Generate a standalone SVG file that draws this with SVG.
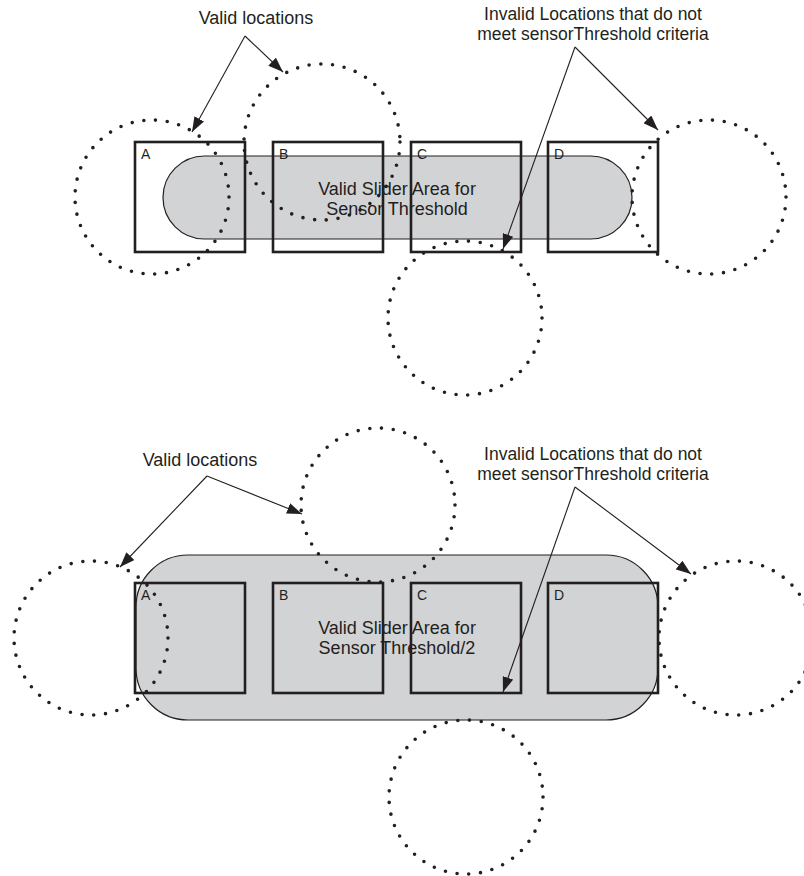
<svg xmlns="http://www.w3.org/2000/svg" width="804" height="876" viewBox="0 0 804 876">
  <defs>
    <style>
      .bg { fill: #ffffff; }
      .pill { fill: #d2d3d5; stroke: #231f20; stroke-width: 1.2; }
      .sq { fill: none; stroke: #231f20; stroke-width: 2.6; }
      .ring { fill: none; stroke: #231f20; stroke-width: 3.6; stroke-linecap: round; stroke-dasharray: 0 11.8; }
      .lead { fill: none; stroke: #231f20; stroke-width: 1.1; marker-end: url(#head); }
      .t { font-family: "Liberation Sans", Arial, sans-serif; font-size: 18px; fill: #231f20; }
      .t2 { font-family: "Liberation Sans", Arial, sans-serif; font-size: 17.5px; fill: #231f20; }
      .c { text-anchor: middle; }
      .lbl { font-family: "Liberation Sans", Arial, sans-serif; font-size: 14px; fill: #231f20; }
    </style>
    <marker id="head" viewBox="0 0 15 11" refX="15" refY="5.5" markerWidth="15" markerHeight="11" markerUnits="userSpaceOnUse" orient="auto">
      <path d="M0,0 L15,5.5 L0,11 z" fill="#231f20"/>
    </marker>
  </defs>

  <rect class="bg" x="0" y="0" width="804" height="876"/>

  <!-- ===== Upper panel: full sensor threshold ===== -->
  <g id="slider-top">
    <rect class="pill" x="163" y="156" width="469" height="83" rx="41.5" ry="41.5"/>
    <text class="t c" x="397" y="195">Valid Slider Area for</text>
    <text class="t c" x="397" y="215">Sensor Threshold</text>
  </g>
  <g id="top-A"><rect class="sq" x="135" y="142" width="110" height="110"/><text class="lbl" x="141" y="159">A</text></g>
  <g id="top-B"><rect class="sq" x="273" y="142" width="110" height="110"/><text class="lbl" x="279" y="159">B</text></g>
  <g id="top-C"><rect class="sq" x="411" y="142" width="110" height="110"/><text class="lbl" x="417" y="159">C</text></g>
  <g id="top-D"><rect class="sq" x="548" y="142" width="110" height="110"/><text class="lbl" x="554" y="159">D</text></g>

  <g id="top-loc-left"><circle class="ring" cx="152" cy="197" r="77"/></g>
  <g id="top-loc-upper"><circle class="ring" cx="322" cy="142" r="78"/></g>
  <g id="top-loc-lower"><circle class="ring" cx="465" cy="318" r="77"/></g>
  <g id="top-loc-right"><circle class="ring" cx="709" cy="197" r="77"/></g>

  <g id="top-valid-label"><text class="t c" x="256" y="24">Valid locations</text></g>
  <g id="top-invalid-label">
    <text class="t2 c" x="593" y="20">Invalid Locations that do not</text>
    <text class="t2 c" x="593" y="40">meet sensorThreshold criteria</text>
  </g>

  <!-- ===== Lower panel: half sensor threshold ===== -->
  <g id="slider-bottom">
    <rect class="pill" x="136" y="555" width="522" height="165" rx="52" ry="52"/>
    <text class="t c" x="397" y="634">Valid Slider Area for</text>
    <text class="t c" x="397" y="654">Sensor Threshold/2</text>
  </g>
  <g id="bot-A"><rect class="sq" x="135" y="583" width="110" height="110"/><text class="lbl" x="141" y="600">A</text></g>
  <g id="bot-B"><rect class="sq" x="273" y="583" width="110" height="110"/><text class="lbl" x="279" y="600">B</text></g>
  <g id="bot-C"><rect class="sq" x="411" y="583" width="110" height="110"/><text class="lbl" x="417" y="600">C</text></g>
  <g id="bot-D"><rect class="sq" x="548" y="583" width="110" height="110"/><text class="lbl" x="554" y="600">D</text></g>

  <g id="bot-loc-left"><circle class="ring" cx="91" cy="638" r="77"/></g>
  <g id="bot-loc-upper"><circle class="ring" cx="378" cy="505" r="77"/></g>
  <g id="bot-loc-lower"><circle class="ring" cx="466" cy="797" r="77"/></g>
  <g id="bot-loc-right"><circle class="ring" cx="736" cy="638" r="77"/></g>

  <g id="bot-valid-label"><text class="t c" x="200" y="466">Valid locations</text></g>
  <g id="bot-invalid-label">
    <text class="t2 c" x="593" y="460">Invalid Locations that do not</text>
    <text class="t2 c" x="593" y="480">meet sensorThreshold criteria</text>
  </g>

  <!-- leader lines from the labels to the example locations -->
  <g id="connectors">
    <line class="lead" x1="245" y1="36" x2="192" y2="132"/>
    <line class="lead" x1="245" y1="36" x2="283" y2="72"/>
    <line class="lead" x1="575" y1="47" x2="503" y2="249"/>
    <line class="lead" x1="575" y1="47" x2="658" y2="130"/>

    <line class="lead" x1="207" y1="476" x2="120" y2="567"/>
    <line class="lead" x1="207" y1="476" x2="302" y2="514"/>
    <line class="lead" x1="575" y1="487" x2="503" y2="692"/>
    <line class="lead" x1="575" y1="487" x2="691" y2="574"/>
  </g>
</svg>
